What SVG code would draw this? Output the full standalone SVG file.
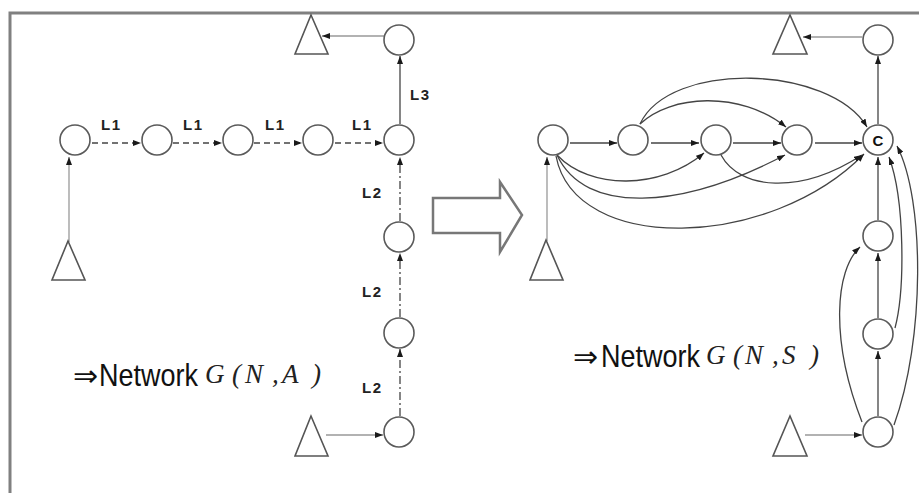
<svg xmlns="http://www.w3.org/2000/svg" width="919" height="493" viewBox="0 0 919 493">
<style>
.nd{fill:#fff;stroke:#5a5a5a;stroke-width:1.6}
.tri{fill:#fff;stroke:#555;stroke-width:1.6;stroke-linejoin:miter}
.c{fill:none;stroke:#444;stroke-width:1.3}
.lt{fill:none;stroke:#999;stroke-width:1.3}
.d1{stroke-dasharray:6,4}
.d2{stroke-dasharray:8,3,2,3}
.lab{font-family:"Liberation Sans",Arial,sans-serif;font-weight:bold;font-size:15px;fill:#222;letter-spacing:1.5px}
.net{font-family:"Liberation Sans",Arial,sans-serif;font-size:27px;fill:#111}
.arr{font-family:"DejaVu Sans","Liberation Sans",sans-serif;font-size:30px;fill:#111}
.m{font-family:"Liberation Serif","Times New Roman",serif;font-style:italic;font-size:27px;fill:#222}
</style>
<defs>
<marker id="ah" viewBox="0 0 8 6" refX="8" refY="3" markerWidth="8" markerHeight="6" markerUnits="userSpaceOnUse" orient="auto">
<path d="M0,0 L8,3 L0,6 z" fill="#1a1a1a"/>
</marker>
</defs>
<rect width="919" height="493" fill="#fff"/>
<g id="frame" fill="none" stroke="#808080" stroke-width="3">
<path d="M10,493 V13 H919"/>
</g>

<g id="connectors">
<!-- left graph -->
<path class="lt" d="M69,242 V157" marker-end="url(#ah)"/>
<path class="c d1" d="M92,143 H141" marker-end="url(#ah)"/>
<path class="c d1" d="M173,143 H222" marker-end="url(#ah)"/>
<path class="c d1" d="M254,143 H302" marker-end="url(#ah)"/>
<path class="c d1" d="M335,143 H383" marker-end="url(#ah)"/>
<path class="c" d="M400,124 V56" marker-end="url(#ah)"/>
<path class="lt" d="M384,36 H322" marker-end="url(#ah)"/>
<path class="c d2" d="M400,221 V157" marker-end="url(#ah)"/>
<path class="c d2" d="M400,317 V253" marker-end="url(#ah)"/>
<path class="c d2" d="M400,416 V349" marker-end="url(#ah)"/>
<path class="lt" d="M326,435 H383" marker-end="url(#ah)"/>
<!-- big arrow -->
<path d="M433,198 H500 V182 L522,215 L500,252 V233 H433 Z" fill="#fff" stroke="#777" stroke-width="2.5" stroke-linejoin="miter"/>
<!-- right graph -->
<path class="lt" d="M547,241 V157" marker-end="url(#ah)"/>
<path class="c" d="M570,143 H617" marker-end="url(#ah)"/>
<path class="c" d="M651,143 H699" marker-end="url(#ah)"/>
<path class="c" d="M733,143 H781" marker-end="url(#ah)"/>
<path class="c" d="M815,143 H862" marker-end="url(#ah)"/>
<path class="c" d="M878,124 V56" marker-end="url(#ah)"/>
<path class="lt" d="M862,37 H803" marker-end="url(#ah)"/>
<path class="c" d="M640,124 C670,60 830,65 867,127" marker-end="url(#ah)"/>
<path class="c" d="M640,124 C670,95 740,90 786,127" marker-end="url(#ah)"/>
<path class="c" d="M557,155 C590,190 660,190 704,153" marker-end="url(#ah)"/>
<path class="c" d="M557,155 C585,215 680,210 785,155" marker-end="url(#ah)"/>
<path class="c" d="M556,156 C575,255 770,250 864,154" marker-end="url(#ah)"/>
<path class="c" d="M721,155 C740,190 800,195 862,155" marker-end="url(#ah)"/>
<path class="c" d="M878,220 V157" marker-end="url(#ah)"/>
<path class="c" d="M878,318 V253" marker-end="url(#ah)"/>
<path class="c" d="M878,416 V351" marker-end="url(#ah)"/>
<path class="lt" d="M805,435 H862" marker-end="url(#ah)"/>
<path class="c" d="M862,422 C830,340 835,270 860,247" marker-end="url(#ah)"/>
<path class="c" d="M895,328 C905,290 905,200 889,157" marker-end="url(#ah)"/>
<path class="c" d="M894,425 C925,340 925,200 897,146" marker-end="url(#ah)"/>
</g>

<!-- left graph nodes -->
<g id="L-src1"><path class="tri" d="M68,241 L52,280 H85 Z"/></g>
<g id="L-n1"><circle class="nd" cx="75" cy="140" r="15"/></g>
<g id="L-n2"><circle class="nd" cx="157" cy="140" r="15"/></g>
<g id="L-n3"><circle class="nd" cx="238" cy="140" r="15"/></g>
<g id="L-n4"><circle class="nd" cx="318" cy="140" r="15"/></g>
<g id="L-n5"><circle class="nd" cx="399" cy="140" r="15"/></g>
<g id="L-top"><circle class="nd" cx="399" cy="40" r="15"/></g>
<g id="L-sink"><path class="tri" d="M311,15 L295,54 H328 Z"/></g>
<g id="L-v1"><circle class="nd" cx="399" cy="237" r="15"/></g>
<g id="L-v2"><circle class="nd" cx="399" cy="333" r="15"/></g>
<g id="L-v3"><circle class="nd" cx="399" cy="432" r="15"/></g>
<g id="L-src2"><path class="tri" d="M311,416 L295,456 H328 Z"/></g>

<g id="labels">
<text class="lab" x="101" y="130">L1</text>
<text class="lab" x="183" y="130">L1</text>
<text class="lab" x="265" y="130">L1</text>
<text class="lab" x="352" y="130">L1</text>
<text class="lab" x="410" y="100">L3</text>
<text class="lab" x="362" y="198">L2</text>
<text class="lab" x="362" y="297">L2</text>
<text class="lab" x="362" y="393">L2</text>
</g>

<!-- right graph nodes -->
<g id="R-src1"><path class="tri" d="M546,240 L530,280 H563 Z"/></g>
<g id="R-n1"><circle class="nd" cx="553" cy="140" r="15"/></g>
<g id="R-n2"><circle class="nd" cx="633" cy="140" r="15"/></g>
<g id="R-n3"><circle class="nd" cx="716" cy="140" r="15"/></g>
<g id="R-n4"><circle class="nd" cx="797" cy="140" r="15"/></g>
<g id="R-c"><circle class="nd" cx="878" cy="140" r="15"/><text x="878" y="146" text-anchor="middle" font-family="Liberation Sans,Arial,sans-serif" font-weight="bold" font-size="15" fill="#111">C</text></g>
<g id="R-top"><circle class="nd" cx="878" cy="40" r="15"/></g>
<g id="R-sink"><path class="tri" d="M790,15 L773,54 H807 Z"/></g>
<g id="R-v1"><circle class="nd" cx="878" cy="236" r="15"/></g>
<g id="R-v2"><circle class="nd" cx="878" cy="334" r="15"/></g>
<g id="R-v3"><circle class="nd" cx="878" cy="432" r="15"/></g>
<g id="R-src2"><path class="tri" d="M790,416 L773,456 H807 Z"/></g>

<g id="caption-left">
<text class="arr" x="73" y="386">⇒</text>
<text class="net" transform="translate(99,386) scale(1,1.15)" x="0" y="0">Network</text>
<text class="m" y="383"><tspan x="205">G</tspan><tspan x="232">(</tspan><tspan x="245">N</tspan><tspan x="272">,</tspan><tspan x="282">A</tspan><tspan x="312">)</tspan></text>
</g>
<g id="caption-right">
<text class="arr" x="573" y="367">⇒</text>
<text class="net" transform="translate(601,367) scale(1,1.15)" x="0" y="0">Network</text>
<text class="m" y="364"><tspan x="706">G</tspan><tspan x="733">(</tspan><tspan x="745">N</tspan><tspan x="772">,</tspan><tspan x="782">S</tspan><tspan x="810">)</tspan></text>
</g>
</svg>
